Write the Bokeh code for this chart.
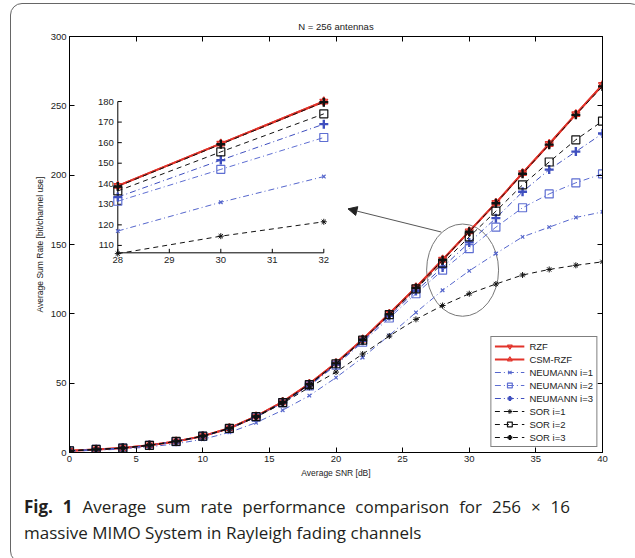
from bokeh.plotting import figure
from bokeh.layouts import column
from bokeh.models import Range1d, LinearAxis, FixedTicker, Arrow, NormalHead, Div
from bokeh.core.properties import value
from bokeh.embed import file_html
from bokeh.resources import INLINE

# ---------------- data ----------------
SNR = [0, 2, 4, 6, 8, 10, 12, 14, 16, 18, 20, 22, 24, 26, 28, 30, 32, 34, 36, 38, 40]
RZF = [1.2, 2.2, 3.2, 5.2, 8.0, 11.8, 17.5, 26.0, 36.5, 49.5, 64.5, 81.5, 100.0, 119.0, 139.0, 159.5, 180.0, 201.5, 222.5, 244.0, 265.0]
CSM_RZF = [1.2, 2.2, 3.2, 5.2, 8.0, 11.8, 17.5, 26.0, 36.5, 49.5, 64.5, 81.5, 100.0, 119.0, 139.0, 159.5, 180.0, 201.5, 222.5, 244.0, 265.0]
NEU_1 = [0.9, 1.6, 2.5, 4.0, 6.3, 9.5, 14.5, 21.5, 30.5, 41.0, 54.0, 68.5, 84.5, 101.0, 117.0, 131.0, 143.5, 155.5, 162.5, 169.5, 173.5]
NEU_2 = [1.2, 2.2, 3.2, 5.2, 7.9, 11.6, 17.2, 25.5, 35.8, 48.0, 63.0, 79.5, 97.0, 114.5, 131.5, 147.0, 162.5, 176.5, 186.5, 194.5, 201.0]
NEU_3 = [1.2, 2.2, 3.2, 5.2, 8.0, 11.7, 17.3, 25.7, 36.0, 48.5, 63.5, 80.5, 98.5, 116.5, 133.5, 151.5, 169.0, 188.0, 204.0, 217.0, 230.0]
SOR_1 = [1.2, 2.2, 3.2, 5.2, 8.0, 11.8, 17.2, 25.5, 35.5, 47.0, 58.0, 71.0, 84.0, 96.0, 106.0, 114.5, 121.5, 128.0, 132.0, 135.0, 137.5]
SOR_2 = [1.2, 2.2, 3.2, 5.2, 8.0, 11.8, 17.4, 25.8, 36.0, 49.0, 64.0, 81.0, 99.5, 118.0, 136.5, 155.5, 174.0, 193.0, 209.5, 225.5, 239.0]
SOR_3 = [1.2, 2.2, 3.2, 5.2, 8.0, 11.8, 17.5, 26.0, 36.4, 49.3, 64.3, 81.3, 99.7, 118.7, 138.7, 159.2, 179.7, 201.0, 222.0, 243.5, 264.0]

X_TICKS = [0, 5, 10, 15, 20, 25, 30, 35, 40]
Y_TICKS = [0, 50, 100, 150, 200, 250, 300]

INSET_X = [28, 30, 32]
INSET_X_TICKS = [28, 29, 30, 31, 32]
INSET_Y_TICKS = [110, 120, 130, 140, 150, 160, 170, 180]

TITLE = "N = 256 antennas"
X_LABEL = "Average SNR [dB]"
Y_LABEL = "Average Sum Rate [bit/channel use]"
CAPTION_BOLD = "Fig. 1"
CAPTION_1 = "Average sum rate performance comparison for 256 \u00d7 16"
CAPTION_2 = "massive MIMO System in Rayleigh fading channels"

# ---------------- styles ----------------
RED = "#E2332A"
BLUE1 = "#5566CC"
BLUE2 = "#5E6ED2"
BLUE3 = "#3F4FBF"
BLACK = "#111111"
DASHDOT = "6 3 1 3"
DASHED = "5 4"
FONT = "Liberation Sans"

series = [
    ("RZF", RZF, RED, "solid", 2.0, "inverted_triangle", 8, 1.2),
    ("CSM-RZF", CSM_RZF, RED, "solid", 2.0, "triangle", 8, 1.2),
    ("NEUMANN i=1", NEU_1, BLUE1, DASHDOT, 1.0, "x", 5, 1.2),
    ("NEUMANN i=2", NEU_2, BLUE2, DASHDOT, 1.0, "square", 8, 1.2),
    ("NEUMANN i=3", NEU_3, BLUE3, DASHDOT, 1.0, "cross", 9, 2.4),
    ("SOR i=1", SOR_1, BLACK, DASHED, 1.0, "asterisk", 6, 1.0),
    ("SOR i=2", SOR_2, BLACK, DASHED, 1.0, "square", 8, 1.2),
    ("SOR i=3", SOR_3, BLACK, DASHED, 1.0, "cross", 9, 2.4),
]

# geometry (pixels)
W = 620
ML, MR, MT, MB = 58, 29, 32, 32
FRAME_W, FRAME_H = 533, 416
H = MT + FRAME_H + MB
X0, X1, Y0, Y1 = 0, 40, 0, 300
PX_X = FRAME_W / (X1 - X0)
PX_Y = FRAME_H / (Y1 - Y0)

p = figure(width=W, height=H, x_range=Range1d(X0, X1), y_range=Range1d(Y0, Y1),
           output_backend="svg", toolbar_location=None,
           min_border_left=ML, min_border_right=MR, min_border_top=MT, min_border_bottom=MB)
p.border_fill_color = None
p.background_fill_color = "white"
p.outline_line_color = "black"
p.outline_line_width = 1
p.xgrid.visible = False
p.ygrid.visible = False

p.title.text = TITLE
p.title.align = "center"
p.title.text_font = FONT
p.title.text_font_size = "9.5px"
p.title.text_font_style = "normal"
p.title.text_color = "#222222"
p.title.standoff = 9


def style_axis(ax, ticks, labels=True):
    ax.ticker = FixedTicker(ticks=ticks)
    ax.major_tick_in = 5
    ax.major_tick_out = 0
    ax.minor_tick_in = 0
    ax.minor_tick_out = 0
    ax.axis_line_color = "black"
    ax.major_tick_line_color = "black"
    ax.major_label_text_font = FONT
    ax.major_label_text_font_size = "9.5px"
    ax.major_label_text_color = "#222222"
    ax.major_label_standoff = 3
    if not labels:
        ax.major_label_overrides = {t: "" for t in ticks}
        ax.major_label_standoff = 0


style_axis(p.xaxis[0], X_TICKS)
style_axis(p.yaxis[0], Y_TICKS)
p.xaxis.axis_label = X_LABEL
p.yaxis.axis_label = Y_LABEL
for ax in (p.xaxis[0], p.yaxis[0]):
    ax.axis_label_text_font = FONT
    ax.axis_label_text_font_size = "8.5px"
    ax.axis_label_text_font_style = "normal"
    ax.axis_label_text_color = "#222222"
    ax.axis_label_standoff = 3

top_ax = LinearAxis()
style_axis(top_ax, X_TICKS, labels=False)
p.add_layout(top_ax, "above")
right_ax = LinearAxis()
style_axis(right_ax, Y_TICKS, labels=False)
p.add_layout(right_ax, "right")

# zoom ellipse + arrow
ZOOM_X, ZOOM_Y, ZOOM_W, ZOOM_H = 29.5, 131.5, 5.4, 66.5
p.ellipse(x=[ZOOM_X], y=[ZOOM_Y], width=[ZOOM_W], height=[ZOOM_H],
          fill_color=None, line_color="#777777", line_width=1)
p.add_layout(Arrow(x_start=27.9, y_start=159.0, x_end=20.9, y_end=175.7,
                   line_color="#555555", line_width=1,
                   end=NormalHead(size=9, fill_color="#222222", line_color="#222222")))

# main curves
for name, vals, color, dash, lw, marker, size, mlw in series:
    p.line(SNR, vals, line_color=color, line_dash=dash, line_width=lw, legend_label=name)
    p.scatter(SNR, vals, marker=marker, size=size, line_color=color, fill_color=None,
              line_width=mlw, legend_label=name)

# ---------------- inset via sub-coordinates ----------------
IN_X0, IN_X1 = 28, 32
IN_Y0, IN_Y1 = 106.4, 180
IN_TX0, IN_TX1 = 3.625, 19.085
IN_TY0, IN_TY1 = 144.0, 253.1
sub = p.subplot(x_source=Range1d(IN_X0, IN_X1), y_source=Range1d(IN_Y0, IN_Y1),
                x_target=Range1d(IN_TX0, IN_TX1), y_target=Range1d(IN_TY0, IN_TY1))
in_px_x = (IN_TX1 - IN_TX0) * PX_X / (IN_X1 - IN_X0)
in_px_y = (IN_TY1 - IN_TY0) * PX_Y / (IN_Y1 - IN_Y0)
TICK = 4
tx = TICK / in_px_x
ty = TICK / in_px_y

sub.segment(x0=[IN_X0, IN_X0], y0=[IN_Y0, IN_Y0], x1=[IN_X1, IN_X0], y1=[IN_Y0, IN_Y1],
            line_color="black", line_width=1)
sub.segment(x0=INSET_X_TICKS, y0=[IN_Y0] * len(INSET_X_TICKS),
            x1=INSET_X_TICKS, y1=[IN_Y0 + ty] * len(INSET_X_TICKS),
            line_color="black", line_width=1)
sub.segment(x0=[IN_X0] * len(INSET_Y_TICKS), y0=INSET_Y_TICKS,
            x1=[IN_X0 + tx] * len(INSET_Y_TICKS), y1=INSET_Y_TICKS,
            line_color="black", line_width=1)
sub.text(x=INSET_X_TICKS, y=[IN_Y0] * len(INSET_X_TICKS), text=[str(t) for t in INSET_X_TICKS],
         text_align="center", text_baseline="top", y_offset=4,
         text_font=value(FONT), text_font_size="9.5px", text_color="#222222")
sub.text(x=[IN_X0] * len(INSET_Y_TICKS), y=INSET_Y_TICKS, text=[str(t) for t in INSET_Y_TICKS],
         text_align="right", text_baseline="middle", x_offset=-4,
         text_font=value(FONT), text_font_size="9.5px", text_color="#222222")

idx = [SNR.index(v) for v in INSET_X]
for name, vals, color, dash, lw, marker, size, mlw in series:
    iv = [vals[i] for i in idx]
    sub.line(INSET_X, iv, line_color=color, line_dash=dash, line_width=lw)
    sub.scatter(INSET_X, iv, marker=marker, size=size, line_color=color, fill_color=None,
                line_width=mlw)

# legend
lg = p.legend[0]
lg.location = "bottom_right"
lg.margin = 5
lg.padding = 3
lg.spacing = 1
lg.glyph_width = 30
lg.glyph_height = 12
lg.label_height = 12
lg.label_standoff = 5
lg.label_text_font = FONT
lg.label_text_font_size = "9.5px"
lg.label_text_color = "#222222"
lg.border_line_color = "black"
lg.border_line_width = 1
lg.background_fill_color = "white"
lg.background_fill_alpha = 1

# caption (first line justified to full width, as in the journal layout)
caption = Div(
    text=("<div style=\"padding:5px 0 0 8px; font-family:'Open Sans'; font-size:17px; "
          "line-height:26px; color:#231F20;\">"
          "<div style=\"width:546px; text-align:justify; text-align-last:justify; white-space:normal;\">"
          f"<b>{CAPTION_BOLD}</b> {CAPTION_1}</div>"
          f"<div style=\"white-space:nowrap;\">{CAPTION_2}</div></div>"),
    width=W, height=68)

layout = column(p, caption, margin=(3, 0, 0, 10),
                styles={"border": "1.5px solid #666666", "border-radius": "12px"})

open("out.html", "w").write(file_html(layout, INLINE))
